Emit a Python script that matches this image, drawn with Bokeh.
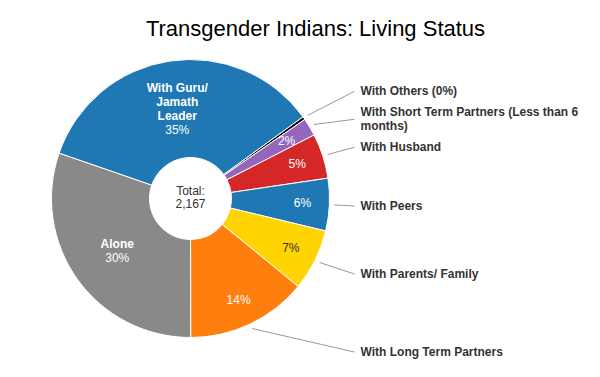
import math
from bokeh.plotting import figure
from bokeh.models import Range1d
from bokeh.core.properties import value
from bokeh.embed import file_html
from bokeh.resources import INLINE

# ---- data ----
title = "Transgender Indians: Living Status"
categories = [
    "With Others",
    "With Short Term Partners (Less than 6\nmonths)",
    "With Husband",
    "With Peers",
    "With Parents/ Family",
    "With Long Term Partners",
    "Alone",
    "With Guru/\nJamath\nLeader",
]
counts = [8, 45, 113, 132, 155, 305, 657, 752]
palette = ["#000000", "#9467BD", "#D62728", "#1F77B4", "#FFD400", "#FF7F0E", "#898989", "#1F77B4"]

# ---- layout ----
W, H, M = 600, 377, 8
FONT = "Liberation Sans"
def Y(ref_y):
    return H - ref_y

p = figure(width=W - 2 * M, height=H - 2 * M, output_backend="svg", toolbar_location=None,
           x_range=Range1d(0, W - 2 * M), y_range=Range1d(2 * M, H),
           x_axis_type=None, y_axis_type=None, min_border=0)
p.grid.visible = False
p.outline_line_color = None
p.background_fill_color = "white"

cx, cy = 190, Y(198)
R_OUT, R_IN = 139, 41
start_deg = 54.0  # clockwise from 12 o'clock

total = sum(counts)
starts, ends, mids = [], [], []
acc = 0
for c in counts:
    s = start_deg + acc / total * 360
    acc += c
    e = start_deg + acc / total * 360
    starts.append(s); ends.append(e); mids.append((s + e) / 2)

to_bokeh = lambda d: math.radians(90 - d)
p.annular_wedge(x=cx, y=cy, inner_radius=R_IN, outer_radius=R_OUT,
                start_angle=[to_bokeh(s) for s in starts], end_angle=[to_bokeh(e) for e in ends],
                direction="clock", fill_color=palette, line_color="white", line_width=1)

def lum(h):
    r, g, b = int(h[1:3], 16), int(h[3:5], 16), int(h[5:7], 16)
    return 0.299 * r + 0.587 * g + 0.114 * b

LH = 14
tx, ty, tt, tc, tw = [], [], [], [], []
def add_line(x, y, text, color, bold):
    tx.append(x); ty.append(y); tt.append(text); tc.append(color); tw.append("bold" if bold else "normal")

# inside labels
for name, c, col, m in zip(categories, counts, palette, mids):
    share = c / total
    pct = round(share * 100)
    if pct < 1:
        continue
    color = "#333333" if lum(col) > 180 else "white"
    if share > 0.2:
        lines = [(l, True) for l in name.split("\n")] + [(f"{pct}%", False)]
        r = (R_IN + R_OUT) / 2
    else:
        lines = [(f"{pct}%", False)]
        r = 112
    px = cx + r * math.sin(math.radians(m))
    py = cy + r * math.cos(math.radians(m))
    n = len(lines)
    for k, (t, b) in enumerate(lines):
        add_line(px, py + (n - 1) / 2 * LH - k * LH, t, color, b)

p.text(x=tx, y=ty, text=tt, text_color=tc, text_font_style=tw, text_font=value(FONT),
       text_font_size="12px", text_align="center", text_baseline="middle")

# outside labels with leader lines
items = []
for name, c, m in zip(categories, counts, mids):
    share = c / total
    if share > 0.2:
        continue
    pct = round(share * 100)
    label = name + (f" ({pct}%)" if pct < 1 else "")
    lines = label.split("\n")
    nat_y = 198 - 170 * math.cos(math.radians(m))  # reference (downward) coordinate
    items.append({"lines": lines, "y": nat_y, "m": m})
items.sort(key=lambda d: d["y"])
for _ in range(10):
    for i in range(1, len(items)):
        a, b = items[i - 1], items[i]
        need = (len(a["lines"]) + len(b["lines"])) * LH / 2 + 7
        diff = b["y"] - a["y"]
        if diff < need:
            sh = (need - diff) / 2
            a["y"] -= sh; b["y"] += sh

LBL_X, LINE_END_X, R_LEAD = 360, 354, 144
ox, oy, ot = [], [], []
x0s, y0s, x1s, y1s = [], [], [], []
for it in items:
    n = len(it["lines"])
    for k, t in enumerate(it["lines"]):
        ox.append(LBL_X); oy.append(Y(it["y"]) + (n - 1) / 2 * LH - k * LH); ot.append(t)
    x0s.append(cx + R_LEAD * math.sin(math.radians(it["m"])))
    y0s.append(cy + R_LEAD * math.cos(math.radians(it["m"])))
    x1s.append(LINE_END_X); y1s.append(Y(it["y"]))
p.segment(x0=x0s, y0=y0s, x1=x1s, y1=y1s, line_color="#999999", line_width=1)
p.text(x=ox, y=oy, text=ot, text_color="#333333", text_font_style="bold", text_font=value(FONT),
       text_font_size="12px", text_align="left", text_baseline="middle")

# centre total
p.text(x=[cx, cx], y=[Y(190.7), Y(203.3)], text=["Total:", f"{total:,}"], text_color="#333333",
       text_font=value(FONT), text_font_size="12px", text_align="center", text_baseline="middle")

# title
p.text(x=[315], y=[Y(27.5)], text=[title], text_color="#000000", text_font=value(FONT),
       text_font_size="22px", text_align="center", text_baseline="alphabetic")

open("out.html", "w").write(file_html(p, INLINE))
